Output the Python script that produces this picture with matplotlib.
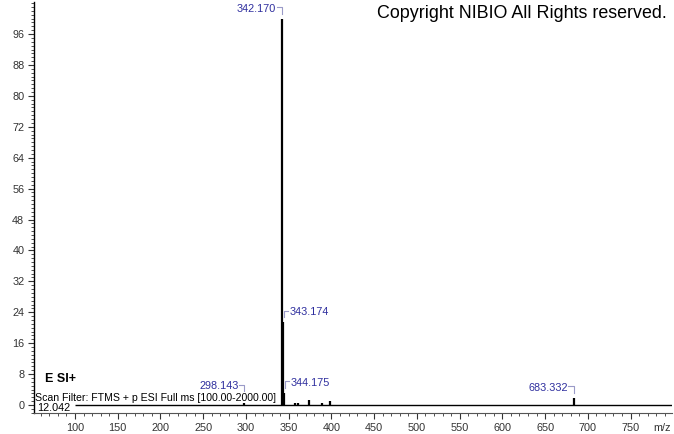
import matplotlib.pyplot as plt
from matplotlib.ticker import MultipleLocator

plt.rcParams['font.family'] = ['Liberation Sans', 'DejaVu Sans']

# Spectrum peaks (m/z, relative abundance)
peak_mz = [298.143, 342.170, 343.174, 344.175, 357.2, 361.1, 374.2, 389.0, 398.1, 683.332]
peak_int = [2.4, 100.0, 21.5, 3.2, 0.5, 0.5, 1.2, 0.5, 1.0, 1.9]

# Labelled peaks and which side the label sits on
label_mz = [342.170, 343.174, 298.143, 344.175, 683.332]
label_int = [100.0, 21.5, 2.4, 3.2, 1.9]
label_side = ["left", "right", "left", "right", "left"]

scan_range = (100.0, 2000.0)
x_ticks = list(range(100, 751, 50))
y_ticks = list(range(0, 97, 8))

fig = plt.figure(figsize=(6.74, 4.34), dpi=100)
ax = fig.add_axes([34 / 674, 21 / 434, 638 / 674, 411 / 434])

# spectrum: baseline + sticks
ax.hlines(0, scan_range[0], scan_range[1], color="black", lw=1.0)
ax.vlines(peak_mz, 0, peak_int, color="black", lw=1.6)

# peak labels with small brackets
label_col = "#2e2e9e"
bracket_col = "#9a9ac8"
dx, dy, off = 6.0, 1.6, 2.9
for mz, inten, side in zip(label_mz, label_int, label_side):
    yb = inten + off
    if side == "left":
        ax.plot([mz - dx, mz, mz], [yb, yb, yb - dy], color=bracket_col, lw=0.8)
        ax.text(mz - dx - 1, yb - 0.3, f"{mz:.3f}", color=label_col, fontsize=7.8,
                ha="right", va="center")
    else:
        ax.plot([mz + 1.5, mz + 1.5, mz + dx], [yb - dy, yb, yb], color=bracket_col, lw=0.8)
        ax.text(mz + dx + 1.5, yb - 0.3, f"{mz:.3f}", color=label_col, fontsize=7.8,
                ha="left", va="center")

ax.set_xlim(52, 798.5)
ax.set_ylim(-2.07, 104.3)

ax.xaxis.set_minor_locator(MultipleLocator(10))
ax.set_xticks(x_ticks)
ax.yaxis.set_minor_locator(MultipleLocator(1))
ax.set_yticks(y_ticks)

ax.tick_params(axis="both", which="major", length=4, width=0.8, labelsize=7.8,
               labelcolor="#333333", color="#333333", pad=3)
ax.tick_params(axis="both", which="minor", length=2.2, width=0.6, color="#333333")

for s in ["top", "right"]:
    ax.spines[s].set_visible(False)
ax.spines["left"].set_color("black")
ax.spines["bottom"].set_color("#555555")
ax.spines["left"].set_linewidth(1.0)
ax.spines["bottom"].set_linewidth(0.8)

ax.annotate("m/z", xy=(1, 0), xycoords="axes fraction", xytext=(-7, -7),
            textcoords="offset points", ha="center", va="top", fontsize=7.8,
            color="#333333")

ax.text(0.018, 6.8, "E SI+", transform=ax.get_yaxis_transform(), fontsize=9,
        fontweight="bold", ha="left", va="center")
ax.text(0.002, 1.9, "Scan Filter: FTMS + p ESI Full ms [100.00-2000.00]",
        transform=ax.get_yaxis_transform(), fontsize=7.6, ha="left", va="center",
        zorder=2, bbox=dict(facecolor="white", edgecolor="none", pad=0.3))
ax.text(0.005, -0.9, "12.042", transform=ax.get_yaxis_transform(), fontsize=7.8,
        ha="left", va="center", zorder=2,
        bbox=dict(facecolor="white", edgecolor="none", pad=0.3))

fig.text(377 / 674, 1 - 14 / 434, "Copyright NIBIO All Rights reserved.",
         fontsize=12.9, ha="left", va="center")

fig.savefig("out.png", dpi=100)
